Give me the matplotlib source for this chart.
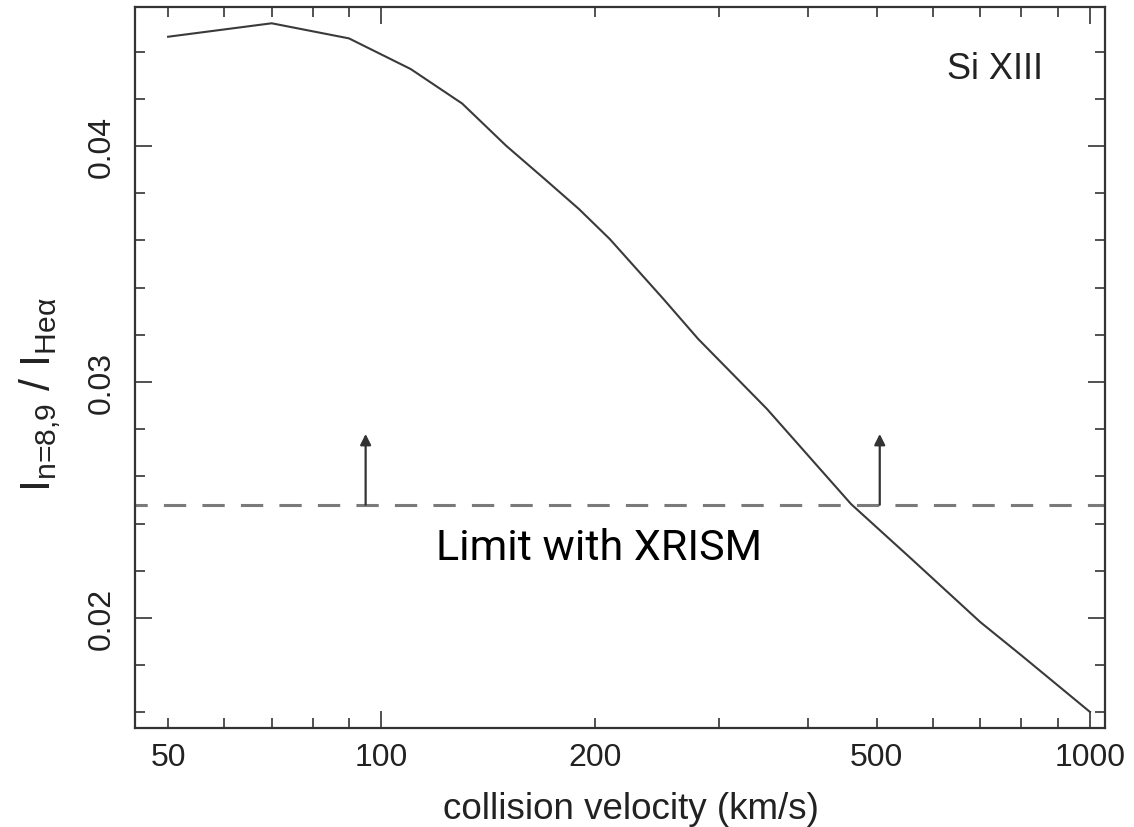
import numpy as np
import matplotlib
matplotlib.use('Agg')
import matplotlib.pyplot as plt
from matplotlib.ticker import FixedLocator, FuncFormatter, NullFormatter

plt.rcParams['font.family'] = ['Liberation Sans', 'DejaVu Sans']
plt.rcParams['mathtext.fontset'] = 'custom'
plt.rcParams['mathtext.rm'] = 'Liberation Sans'
plt.rcParams['mathtext.it'] = 'Liberation Sans:italic'
plt.rcParams['mathtext.bf'] = 'Liberation Sans:bold'

# Si XIII n=8,9 / He-alpha ratio vs collision velocity
velocity = [50, 70, 90, 110, 130, 150, 170, 190, 210, 250, 280, 350, 460, 560, 700, 800, 1000]
ratio = [0.04463, 0.04520, 0.04456, 0.04326, 0.04180, 0.04001, 0.03860, 0.03733,
         0.03606, 0.03352, 0.03182, 0.02886, 0.02483, 0.02250, 0.01983, 0.01842, 0.01602]

limit = 0.0248
arrow_x = [95, 505]
arrow_top = 0.0278

x_labeled = [50, 100, 200, 500, 1000]
x_major = [100, 1000]
x_minor = [50, 60, 70, 80, 90, 200, 300, 400, 500, 600, 700, 800, 900]
y_major = [0.02, 0.03, 0.04]
y_minor = [0.016, 0.018, 0.022, 0.024, 0.026, 0.028, 0.032, 0.034, 0.036, 0.038, 0.042, 0.044]

ink = '#222222'

fig = plt.figure(figsize=(11.34, 8.28), dpi=100)
ax = fig.add_axes([135/1134, 1 - 729/828, 970/1134, 721/828])

ax.plot(velocity, ratio, color='#3a3a3a', lw=1.5)
ax.axhline(limit, color='#7a7a7a', lw=2.2, linestyle=(3.3, (7.3, 5.3)))

for xa in arrow_x:
    ax.annotate('', xy=(xa, arrow_top), xytext=(xa, limit),
                arrowprops=dict(arrowstyle='-|>', color='#333333', lw=1.6,
                                mutation_scale=16, shrinkA=0, shrinkB=0))

ax.text(203, 0.0230, 'Limit with XRISM', family='Roboto', fontsize=31,
        color='black', ha='center', va='center')
ax.text(0.887, 0.915, 'Si XIII', transform=ax.transAxes, fontsize=26,
        color=ink, ha='center', va='center')

ax.set_xscale('log')
ax.set_xlim(44.9, 1050)
ax.set_ylim(0.01534, 0.04589)

ax.xaxis.set_major_locator(FixedLocator(x_major))
ax.xaxis.set_minor_locator(FixedLocator(x_minor))
lab = FuncFormatter(lambda v, p: '%d' % round(v) if round(v) in x_labeled else '')
ax.xaxis.set_major_formatter(lab)
ax.xaxis.set_minor_formatter(lab)

ax.yaxis.set_major_locator(FixedLocator(y_major))
ax.yaxis.set_minor_locator(FixedLocator(y_minor))
ax.yaxis.set_major_formatter(FuncFormatter(lambda v, p: '%.2f' % v))
ax.yaxis.set_minor_formatter(NullFormatter())

ax.tick_params(which='both', direction='in', top=True, right=True,
               width=1.2, color='#333333', labelcolor=ink)
ax.tick_params(which='major', length=12)
ax.tick_params(which='minor', length=7)
ax.tick_params(axis='x', which='both', labelsize=23, pad=10)
ax.tick_params(axis='y', which='both', labelsize=23, pad=13)
for t in ax.get_yticklabels():
    t.set_rotation(90)
    t.set_va('center')

for s in ax.spines.values():
    s.set_linewidth(1.6)
    s.set_color('#333333')

fig.text(631/1134, 1 - 810/828, 'collision velocity (km/s)', fontsize=26.5,
         color=ink, ha='center', va='center')
fig.text(40/1134, 1 - 395/828, r'$\mathrm{I_{\text{n=8,9}}\ /\ I_{He\alpha}}$',
         fontsize=31, color=ink, rotation=90, ha='center', va='center')

fig.savefig('out.png', dpi=100)
